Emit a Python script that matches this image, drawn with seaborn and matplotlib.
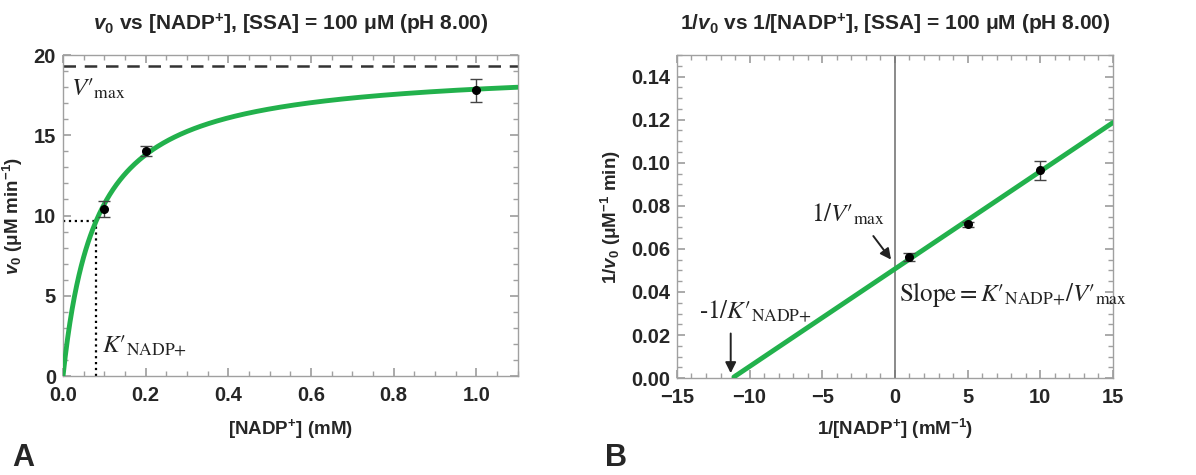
import matplotlib
matplotlib.use("Agg")
import matplotlib.pyplot as plt
import seaborn as sns
import numpy as np
import pandas as pd
from matplotlib.ticker import MultipleLocator

# data
nadp_mM = [0.1, 0.2, 1.0]
v0 = [10.4, 14.0, 17.8]
v0_err = [0.5, 0.3, 0.7]

inv_nadp = [10, 5, 1]
inv_v0 = [0.0965, 0.0715, 0.0563]
inv_v0_err = [0.0045, 0.0012, 0.0018]

vmax = 19.3
km = 0.08
lb_intercept = 0.0507
lb_slope = 0.00453

green = "#22b14c"
frame = "#a0a0a0"

sns.set_theme(style="ticks")
plt.rcParams["font.family"] = ["Liberation Sans", "DejaVu Sans"]
plt.rcParams["mathtext.fontset"] = "custom"
plt.rcParams["mathtext.rm"] = "Liberation Sans:bold"
plt.rcParams["mathtext.it"] = "Liberation Sans:italic:bold"
plt.rcParams["mathtext.bf"] = "Liberation Sans:bold"

fig = plt.figure(figsize=(11.96, 4.75), dpi=100)
axA = fig.add_axes([0.0527, 0.2084, 0.380, 0.6758])
axB = fig.add_axes([0.566, 0.204, 0.3645, 0.680])

ann = dict(math_fontfamily="stix", fontsize=18, fontweight="normal",
           color="#222222", va="center")


def style_axes(ax):
    for s in ax.spines.values():
        s.set_color(frame)
        s.set_linewidth(1.0)
    ax.tick_params(which="both", direction="in", top=True, right=True, color=frame)
    ax.tick_params(which="major", length=6, labelsize=14.5)
    ax.tick_params(axis="x", which="major", pad=7)
    ax.tick_params(axis="y", which="major", pad=5)
    ax.tick_params(which="minor", length=3.5)
    for lab in ax.get_xticklabels() + ax.get_yticklabels():
        lab.set_fontweight("bold")


# ---- panel A ----
x = np.linspace(0, 1.1, 400)
curve = pd.DataFrame({"s": x, "v": vmax * x / (km + x)})
sns.lineplot(data=curve, x="s", y="v", ax=axA, color=green, lw=3.5, zorder=3)
axA.axhline(vmax, color="#333333", ls=(0, (5, 3.5)), lw=1.8)
axA.plot([0, km], [vmax / 2, vmax / 2], color="black", ls=":", lw=1.6)
axA.plot([km, km], [0, vmax / 2], color="black", ls=":", lw=1.6)
axA.errorbar(nadp_mM, v0, yerr=v0_err, fmt="o", color="black", ms=5.5,
             ecolor="#444444", elinewidth=1.0, capsize=4, capthick=1.0, zorder=4)
axA.set_xlim(0, 1.1)
axA.set_ylim(0, 20)
axA.xaxis.set_major_locator(MultipleLocator(0.2))
axA.xaxis.set_minor_locator(MultipleLocator(0.05))
axA.yaxis.set_major_locator(MultipleLocator(5))
axA.yaxis.set_minor_locator(MultipleLocator(1))
axA.set_xticklabels([f"{t:.1f}" for t in axA.get_xticks()])
axA.set_xlabel(r"[NADP$^{+}$] (mM)", fontsize=13.5, fontweight="bold", labelpad=9)
axA.set_ylabel(r"$v_0$ (μM min$^{-1}$)", fontsize=13.5, fontweight="bold", labelpad=6)
axA.set_title(r"$v_0$ vs [NADP$^{+}$], [SSA] = 100 μM (pH 8.00)", fontsize=15,
              fontweight="bold", pad=18)
axA.text(0.02, 17.9, r"$V{\prime}_{\text{max}}$", **ann)
axA.text(0.095, 1.9, r"$K{\prime}_{\text{NADP+}}$", **ann)
style_axes(axA)

# ---- panel B ----
xb = np.linspace(-15, 15, 200)
line = pd.DataFrame({"s": xb, "v": lb_intercept + lb_slope * xb})
line = line[line["v"] >= 0]
axB.axvline(0, color="#777777", lw=1.2)
sns.lineplot(data=line, x="s", y="v", ax=axB, color=green, lw=3.5, zorder=3)
axB.errorbar(inv_nadp, inv_v0, yerr=inv_v0_err, fmt="o", color="black", ms=5.5,
             ecolor="#444444", elinewidth=1.0, capsize=4, capthick=1.0, zorder=4)
axB.set_xlim(-15, 15)
axB.set_ylim(0, 0.15)
axB.xaxis.set_major_locator(MultipleLocator(5))
axB.xaxis.set_minor_locator(MultipleLocator(1))
axB.yaxis.set_major_locator(MultipleLocator(0.02))
axB.yaxis.set_minor_locator(MultipleLocator(0.005))
axB.set_yticklabels([f"{t:.2f}" for t in axB.get_yticks()])
axB.set_xlabel(r"1/[NADP$^{+}$] (mM$^{-1}$)", fontsize=13.5, fontweight="bold", labelpad=7)
axB.set_ylabel(r"1/$v_0$ (μM$^{-1}$ min)", fontsize=13.5, fontweight="bold", labelpad=6)
axB.set_title(r"1/$v_0$ vs 1/[NADP$^{+}$], [SSA] = 100 μM (pH 8.00)", fontsize=15,
              fontweight="bold", pad=18)
axB.text(-5.8, 0.076, r"$1/V{\prime}_{\text{max}}$", **ann)
axB.annotate("", xy=(-0.15, 0.054), xytext=(-1.6, 0.067),
             arrowprops=dict(arrowstyle="-|>", color="#222222", lw=1.4, mutation_scale=16))
axB.text(-13.5, 0.031, r"$\text{-}1/K{\prime}_{\text{NADP+}}$", **ann)
axB.annotate("", xy=(-11.3, 0.001), xytext=(-11.3, 0.022),
             arrowprops=dict(arrowstyle="-|>", color="#222222", lw=1.4, mutation_scale=16))
axB.text(0.3, 0.039,
         r"$\text{Slope} = K{\prime}_{\text{NADP+}}/V{\prime}_{\text{max}}$", **ann)
style_axes(axB)

fig.text(0.010, 0.018, "A", fontsize=22, fontweight="bold")
fig.text(0.506, 0.018, "B", fontsize=22, fontweight="bold")

fig.savefig("out.png", dpi=100)
